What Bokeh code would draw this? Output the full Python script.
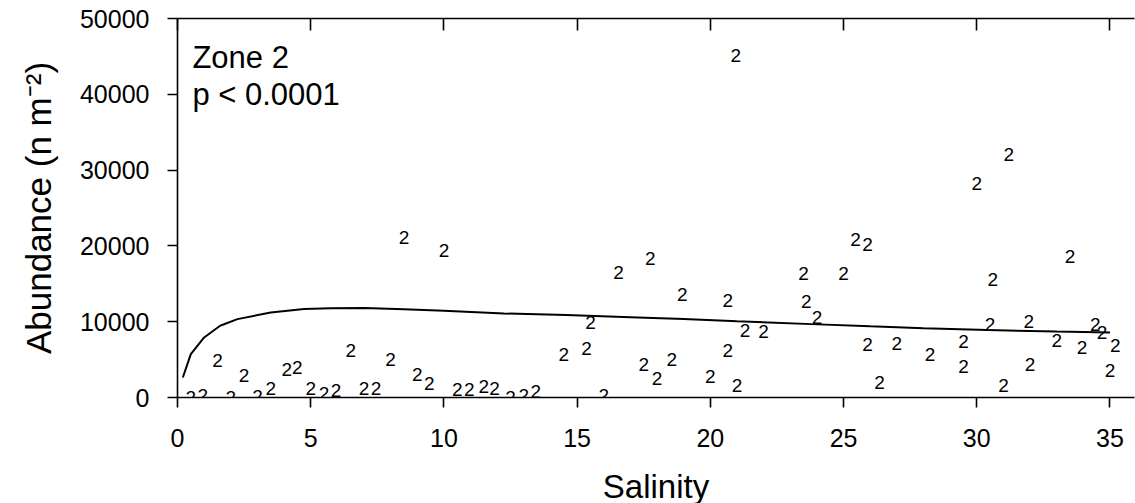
from bokeh.plotting import figure
from bokeh.models import (ColumnDataSource, LinearAxis, SingleIntervalTicker,
                          NumeralTickFormatter, CustomJSTickFormatter, Label, Range1d)
from bokeh.core.properties import value
from bokeh.embed import file_html
from bokeh.resources import INLINE

# ---- data (Zone 2) ----
salinity = [0.5, 0.95, 1.5, 2.0, 2.5, 3.0, 3.5, 4.1, 4.5, 5.0, 5.5, 5.95, 6.5, 7.0,
            7.45, 8.0, 9.0, 9.45, 10.5, 10.95, 11.5, 11.9, 12.5, 13.0, 13.45,
            20.95, 8.5, 10.0, 16.55, 17.75, 18.95, 20.65,
            14.5, 15.35, 15.5, 16.0, 17.5, 18.0, 18.55, 20.0, 20.65, 21.0, 21.3,
            22.0, 23.6, 24.0, 25.9, 26.35, 27.0, 28.25, 29.5, 29.5, 30.5, 31.0,
            32.0, 31.95, 33.0, 33.95, 34.45, 34.7, 35.2, 35.0,
            31.2, 30.0, 25.45, 25.9, 23.5, 25.0, 33.5, 30.6]
abundance = [0, 200, 4900, 0, 2850, 100, 1250, 3750, 4000, 1250, 550, 900, 6250, 1250,
             1250, 4950, 3000, 1850, 1000, 1000, 1400, 1250, 0, 200, 800,
             45100, 21100, 19400, 16500, 18300, 13600, 12800,
             5700, 6500, 9900, 200, 4300, 2550, 5050, 2750, 6250, 1550, 8800,
             8700, 12700, 10550, 6950, 2000, 7100, 5650, 7400, 4050, 9600, 1550,
             4300, 10050, 7550, 6600, 9650, 8600, 6800, 3600,
             32100, 28200, 20900, 20250, 16400, 16400, 18550, 15600]
marker_label = ["2"] * len(salinity)

# fitted curve as drawn in the reference
curve_salinity = [0.2, 0.5, 1.0, 1.6, 2.25, 3.5, 4.75, 5.75, 7.0, 8.5, 10.0, 12.25,
                  14.6, 17.0, 19.0, 21.0, 23.8, 26.0, 28.0, 30.4, 33.0, 35.0]
curve_abundance = [2640, 5730, 7920, 9460, 10340, 11210, 11660, 11790, 11800, 11650,
                   11430, 11080, 10900, 10600, 10340, 10050, 9680, 9400, 9150, 8890,
                   8700, 8580]

FONT = "Liberation Sans"

p = figure(frame_width=957, frame_height=379,
           min_border_left=177, min_border_right=1, min_border_top=18,
           min_border_bottom=106,
           x_range=Range1d(0, 35.92), y_range=Range1d(0, 50000),
           output_backend="svg", toolbar_location=None,
           x_axis_label="Salinity", y_axis_label="Abundance (n m\u207b\u00b2)")
p.background_fill_color = "white"
p.border_fill_color = "white"
p.outline_line_color = None
p.grid.visible = False

xa = p.xaxis[0]
xa.ticker = SingleIntervalTicker(interval=5)
ya = p.yaxis[0]
ya.ticker = SingleIntervalTicker(interval=10000)
ya.formatter = NumeralTickFormatter(format="0")

for ax in (xa, ya):
    ax.axis_line_color = "black"
    ax.axis_line_width = 1.6
    ax.major_tick_line_color = "black"
    ax.major_tick_line_width = 1.6
    ax.major_tick_out = 10
    ax.major_tick_in = 0
    ax.minor_tick_line_color = None
    ax.major_label_text_font = FONT
    ax.major_label_text_font_size = "25px"
    ax.major_label_text_color = "black"
    ax.axis_label_text_font = FONT
    ax.axis_label_text_font_size = "33px"
    ax.axis_label_text_font_style = "normal"
    ax.axis_label_text_color = "black"

ya.axis_label_text_font_size = "35px"
xa.major_label_standoff = 21
xa.axis_label_standoff = 18
ya.major_label_standoff = 18
ya.axis_label_standoff = 19

# top axis: line with inward ticks, no labels
top = LinearAxis(ticker=SingleIntervalTicker(interval=5),
                 formatter=CustomJSTickFormatter(code="return '';"))
top.axis_line_color = "black"
top.axis_line_width = 1.6
top.major_tick_line_color = "black"
top.major_tick_line_width = 1.6
top.major_tick_in = 12
top.major_tick_out = 0
top.minor_tick_line_color = None
top.major_label_text_font_size = "1px"
top.major_label_standoff = 0
p.add_layout(top, "above")

# fitted curve
p.line(curve_salinity, curve_abundance, line_color="black", line_width=2)

# points drawn as "2" symbols
src = ColumnDataSource(dict(s=salinity, a=abundance, t=marker_label))
p.text(x="s", y="a", text="t", source=src, text_font=value(FONT),
       text_font_size=value("19px"), text_align="center", text_baseline="middle",
       text_color="black")

p.add_layout(Label(x=0.56, y=44860, text="Zone 2", text_font=FONT,
                   text_font_size="31px", text_baseline="alphabetic",
                   text_color="black"))
p.add_layout(Label(x=0.56, y=39980, text="p < 0.0001", text_font=FONT,
                   text_font_size="31px", text_baseline="alphabetic",
                   text_color="black"))

open("out.html", "w").write(file_html(p, INLINE))
